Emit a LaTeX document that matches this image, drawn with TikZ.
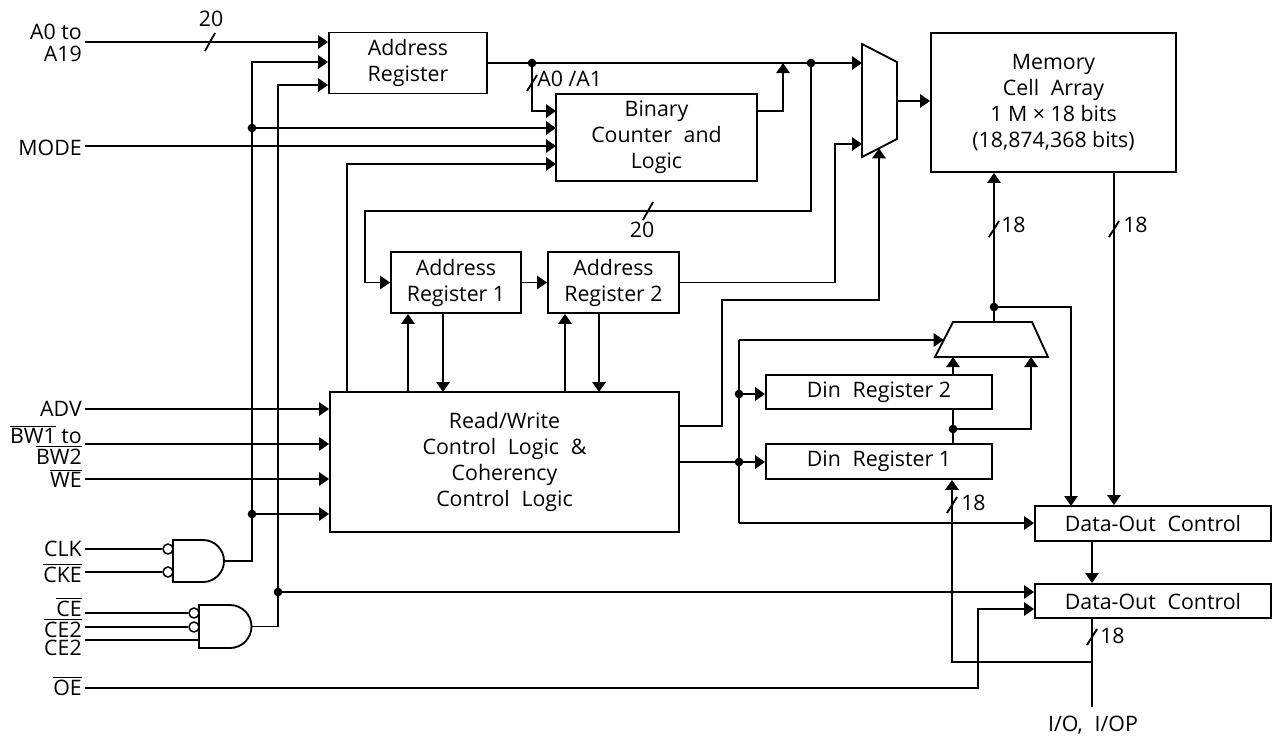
\documentclass[tikz,border=0pt]{standalone}
\usepackage{fontspec}
\setmainfont{Open Sans}
\usepackage{tikz}
\usetikzlibrary{arrows.meta}
\newcommand{\ovl}[1]{$\overline{\mbox{#1}}$}
\newcommand{\dfont}{\fontsize{16}{19.5}\selectfont}
\newcommand{\gap}{\hspace{0.55em}}

\begin{document}
\begin{tikzpicture}[x=0.75pt,y=0.75pt,yscale=-1,xscale=1,
  wire/.style={line width=1.4pt},
  arr/.style={wire,-{Triangle[length=7.5pt,width=10pt]}},
  blk/.style={draw,line width=1.4pt,align=center,inner sep=0pt,font=\dfont},
  wh/.style 2 args={minimum width=#1*0.75pt,minimum height=#2*0.75pt},
  lbl/.style={anchor=base east,inner sep=0pt,font=\dfont},
  nlab/.style={anchor=base west,inner sep=0pt,font=\dfont},
  jdot/.style={circle,fill,inner sep=0pt,minimum size=6.5pt},
  bub/.style={circle,draw,line width=1.1pt,fill=white,inner sep=0pt,minimum size=7.5pt}]
\useasboundingbox (0,0) rectangle (1276,740);
%Shape: Rectangle
\node[blk,wh={158}{61}] (adr) at (408,63) {Address\\Register};
%Shape: Rectangle
\node[blk,wh={201}{87}] (bcl) at (656.5,137.5) {Binary\\Counter\gap and\\Logic};
%Shape: Rectangle
\node[blk,wh={130}{61}] (ar1) at (456,282.5) {Address\\Register 1};
%Shape: Rectangle
\node[blk,wh={131}{61}] (ar2) at (613.5,282.5) {Address\\Register 2};
%Shape: Rectangle
\node[blk,wh={349}{140}] (rw) at (504.5,462) {Read/Write\\Control\gap Logic\gap \&\\Coherency\\Control\gap Logic};
%Shape: Rectangle
\node[blk,wh={245}{139}] (mem) at (1053.5,102.5) {Memory\\Cell\gap Array\\1 M × 18 bits\\(18,874,368 bits)};
%Shape: Rectangle
\node[blk,wh={226}{34}] (din2) at (879,392) {Din\gap Register 2};
\node[blk,wh={226}{35}] (din1) at (879,461.5) {Din\gap Register 1};
%Shape: Rectangle
\node[blk,wh={236}{35}] (doc1) at (1153,523.5) {Data-Out\gap Control};
\node[blk,wh={236}{34}] (doc2) at (1153,601) {Data-Out\gap Control};
%Shape: Mux
\draw[wire] (862,44) -- (897,62) -- (897,139) -- (862,157) -- cycle;
\coordinate (mxa-i1) at (862,63);
\coordinate (mxa-i2) at (862,144);
\coordinate (mxa-s) at (879,148.3);
\coordinate (mxa-o) at (897,101);
%Shape: Mux
\draw[wire] (953,322) -- (1032,322) -- (1048,357) -- (935,357) -- cycle;
\coordinate (mxb-i1) at (953,357);
\coordinate (mxb-i2) at (1031,357);
\coordinate (mxb-s) at (943.7,340);
\coordinate (mxb-o) at (994,322);
%Shape: And gates
\draw[wire] (173,540) -- (203,540) arc[start angle=-90,end angle=90,radius=21] -- (173,582) -- cycle;
\coordinate (g1o) at (224,561);
\node[bub] (b1) at (168,549) {};
\node[bub] (b2) at (168,572) {};
\draw[wire] (199,605) -- (230,605) arc[start angle=-90,end angle=90,radius=21.5] -- (199,648) -- cycle;
\coordinate (g2o) at (251.5,626.5);
\node[bub] (b3) at (194,613) {};
\node[bub] (b4) at (194,627) {};
\coordinate (g2i) at (199,640);
% Junctions
\node[jdot] (j1) at (532,63) {};
\node[jdot] (j2) at (811,63) {};
\node[jdot] (j3) at (252,128) {};
\node[jdot] (j4) at (739,462) {};
\node[jdot] (j5) at (739,394) {};
\node[jdot] (j6) at (953,429) {};
\node[jdot] (j7) at (994,307) {};
\node[jdot] (j8) at (278,592) {};
\node[jdot] (j9) at (252,514) {};
% Text Node
\node[lbl] (lA) at (82,39) {A0 to};
\node[lbl] (lA2) at (82,61) {A19};
\node[lbl] (lMode) at (82,155) {MODE};
\node[lbl] (lAdv) at (82,416) {ADV};
\node[lbl] (lBw) at (82,443) {\ovl{BW1} to};
\node[lbl] (lBw2) at (82,464) {\ovl{BW2}};
\node[lbl] (lWe) at (82,487) {\ovl{WE}};
\node[lbl] (lClk) at (82,556) {CLK};
\node[lbl] (lCke) at (82,582) {\ovl{CKE}};
\node[lbl] (lCe) at (82,616) {\ovl{CE}};
\node[lbl] (lCe2n) at (82,637) {\ovl{CE2}};
\node[lbl] (lCe2) at (82,655) {CE2};
\node[lbl] (lOe) at (82,695) {\ovl{OE}};
\node[nlab,anchor=base] (n20a) at (211,26) {20};
\node[nlab] (nA01) at (537,86) {A0 /A1};
\node[nlab,anchor=base] (n20b) at (642,237) {20};
\node[nlab] (n18a) at (1001,232) {18};
\node[nlab] (n18b) at (1123,232) {18};
\node[nlab] (n18c) at (961,510) {18};
\node[nlab] (n18d) at (1100,643) {18};
\node[nlab,anchor=base] (lIo) at (1093,731) {I/O,\gap I/OP};
%Straight Lines: inputs
\coordinate (iA) at (85,42);
\coordinate (iMode) at (85,146);
\coordinate (iAdv) at (85,409);
\coordinate (iBw) at (85,444);
\coordinate (iWe) at (85,479);
\coordinate (iClk) at (85,549);
\coordinate (iCke) at (85,572);
\coordinate (iCe) at (85,613);
\coordinate (iCe2n) at (85,627);
\coordinate (iCe2) at (85,640);
\coordinate (iOe) at (85,688);
\draw[arr] (iA) -- (iA -| adr.west);
\draw[arr] (iAdv) -- (iAdv -| rw.west);
\draw[arr] (iBw) -- (iBw -| rw.west);
\draw[arr] (iWe) -- (iWe -| rw.west);
\draw[wire] (iClk) -- (b1.west);
\draw[wire] (iCke) -- (b2.west);
\draw[wire] (iCe) -- (b3.west);
\draw[wire] (iCe2n) -- (b4.west);
\draw[wire] (iCe2) -- (g2i);
%Straight Lines: clock and enable buses
\coordinate (k1) at (252,62);
\coordinate (k2) at (278,85);
\draw[arr] (g1o) -| (k1) -- (k1 -| adr.west);
\draw[arr] (g2o) -| (k2) -- (k2 -| adr.west);
\draw[arr] (j9.center) -- (j9 -| rw.west);
\draw[arr] (j8.center) -- (j8 -| doc2.west);
%Straight Lines: binary counter inputs
\coordinate (bi1) at (556,111);
\coordinate (bi2) at (556,128);
\coordinate (bi3) at (556,146);
\coordinate (bi4) at (556,164);
\coordinate (rwt) at (347,392);
\draw[arr] (j1.center) |- (bi1);
\draw[arr] (j3.center) -- (bi2);
\draw[arr] (iMode) -- (bi3);
\draw[arr] (rwt) |- (bi4);
%Straight Lines: address path
\coordinate (bo) at (757,111);
\coordinate (bt) at (783,63);
\coordinate (k3) at (365,211);
\coordinate (k4) at (835,144);
\draw[arr] (adr.east) -- (mxa-i1);
\draw[arr] (bo) -| (bt);
\draw[arr] (j2.center) |- (k3) |- (ar1.west);
\draw[arr] (ar1) -- (ar2);
\draw[arr] (ar2.east) -| (k4) -- (mxa-i2);
\draw[arr] (mxa-o) -- (mxa-o -| mem.west);
%Straight Lines: mux select
\coordinate (rwo1) at (679,426);
\coordinate (k5) at (722,300);
\draw[arr] (rwo1) -| (k5) -| (mxa-s);
%Straight Lines: address registers and control
\coordinate (u1) at (408,392);
\coordinate (d1) at (443,392);
\coordinate (u2) at (565,392);
\coordinate (d2) at (599,392);
\draw[arr] (u1) -- (u1 |- ar1.south);
\draw[arr] (d1 |- ar1.south) -- (d1);
\draw[arr] (u2) -- (u2 |- ar2.south);
\draw[arr] (d2 |- ar2.south) -- (d2);
%Straight Lines: data in
\coordinate (rwo2) at (679,462);
\coordinate (k6) at (739,340);
\coordinate (k7) at (739,523);
\draw[wire] (rwo2) -- (j4.center);
\draw[arr] (j4.center) -- (j4 -| din1.west);
\draw[arr] (j5.center) -- (j5 -| din2.west);
\draw[wire] (k6) -- (k7);
\draw[arr] (k6) -- (mxb-s);
\draw[arr] (k7) -- (k7 -| doc1.west);
\draw[arr] (din2.north -| mxb-i1) -- (mxb-i1);
\draw[wire] (din1.north -| j6) -- (din2.south -| j6);
\draw[arr] (j6.center) -| (mxb-i2);
%Straight Lines: memory and data out
\coordinate (k8) at (1071,506);
\coordinate (mo) at (1114,172);
\coordinate (k9) at (1092,541);
\coordinate (io) at (1092,707);
\coordinate (k10) at (1092,662);
\coordinate (k11) at (952,662);
\coordinate (k12) at (978,609);
\draw[arr] (mxb-o) -- (mxb-o |- mem.south);
\draw[arr] (j7.center) -| (k8);
\draw[arr] (mo) -- (mo |- doc1.north);
\draw[arr] (k9) -- (k9 |- doc2.north);
\draw[wire] (io |- doc2.south) -- (io);
\draw[arr] (k10) -- (k11) -- (k11 |- din1.south);
\draw[arr] (iOe) -| (k12) -- (k12 -| doc2.west);
%Bus slashes
\draw[wire] (210,42) ++(-5,9) -- ++(10,-18);
\draw[wire] (532,83) ++(-5,8) -- ++(10,-16);
\draw[wire] (648,211) ++(-5,9) -- ++(10,-18);
\draw[wire] (994,229) ++(-5,8) -- ++(10,-16);
\draw[wire] (1114,229) ++(-5,8) -- ++(10,-16);
\draw[wire] (952,505) ++(-5,8) -- ++(10,-16);
\draw[wire] (1092,637) ++(-5,8) -- ++(10,-16);
\end{tikzpicture}
\end{document}
